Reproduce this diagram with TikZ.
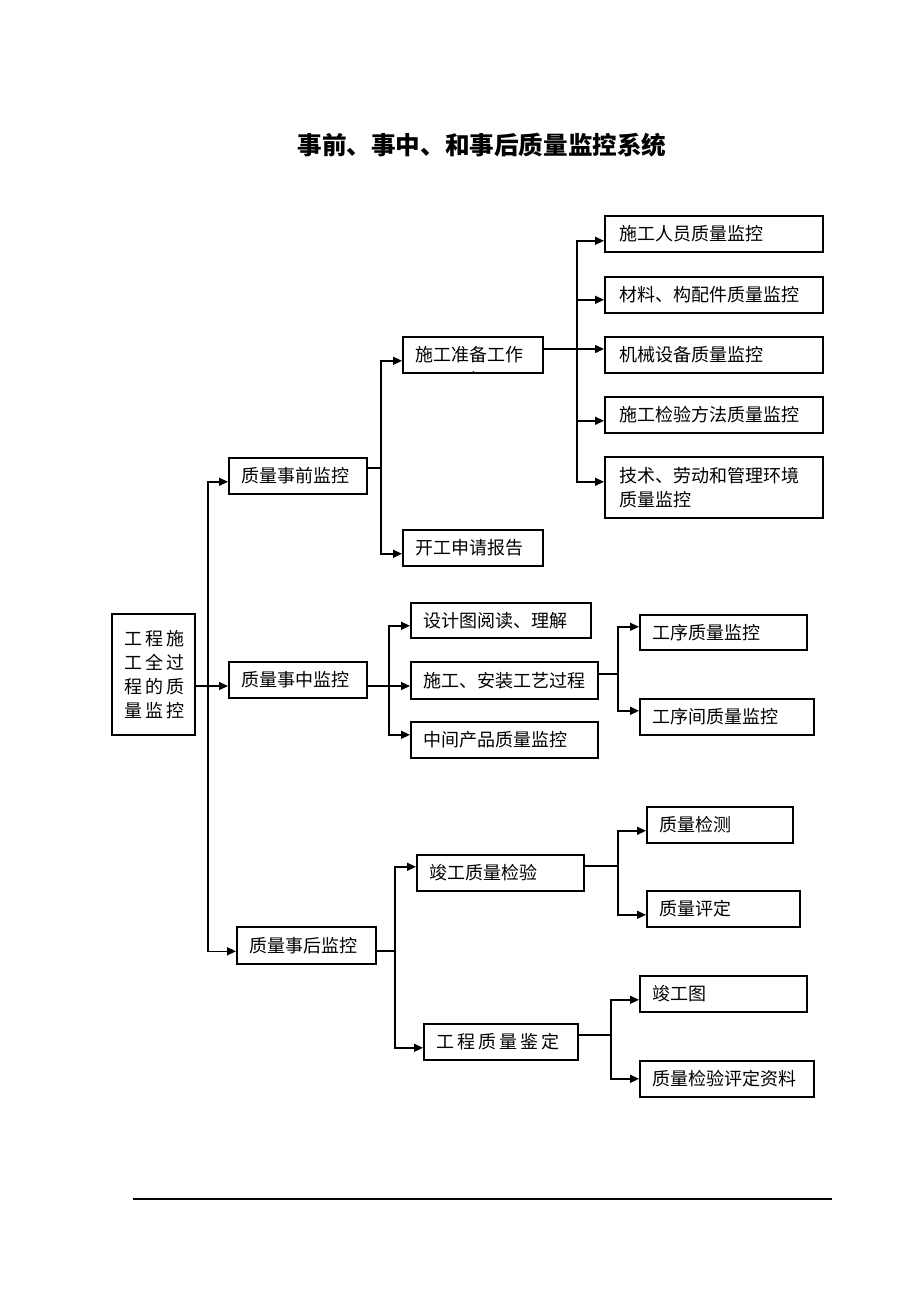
\documentclass[tikz,border=0pt]{standalone}
\usepackage{fontspec}
\setmainfont{Noto Sans CJK SC}
\usetikzlibrary{arrows.meta}

\tikzset{
  box/.style={draw, line width=0.8pt, anchor=north west, inner xsep=6.5pt,
    inner ysep=0pt, align=left, font=\fontsize{9pt}{12pt}\selectfont},
  arr/.style={line width=0.7pt, -{Triangle[length=4.5pt,width=4pt]}},
  ln/.style={line width=0.7pt}
}

\begin{document}
\begin{tikzpicture}[x=0.5pt, y=-0.5pt]
    \useasboundingbox (0,0) rectangle (920,1302);

    \node (title) at (482,145) {\fontsize{12.3pt}{14pt}\selectfont\bfseries 事前、事中、和事后质量监控系统};

    % root
    \node[box, text width=28.5pt, minimum height=60.5pt] (root) at (111,613)
      {工\,程\,施\\工\,全\,过\\程\,的\,质\\量\,监\,控};

    % second level
    \node[box, text width=56pt, minimum height=18pt] (pre) at (228,457) {质量事前监控};
    \node[box, text width=56pt, minimum height=18pt] (mid) at (228,661) {质量事中监控};
    \node[box, text width=56.5pt, minimum height=18.5pt] (post) at (236,926) {质量事后监控};

    % before
    \node[box, text width=57pt, minimum height=18pt] (prep) at (402,336) {施工准备工作};
    \node[font=\tiny] (mark) at (477,373) {、};
    \node[box, text width=57pt, minimum height=18pt] (apply) at (402,529) {开工申请报告};
    \node[box, text width=94pt, minimum height=18pt, inner xsep=7.5pt] (p1) at (604,215) {施工人员质量监控};
    \node[box, text width=94pt, minimum height=18pt, inner xsep=7.5pt] (p2) at (604,276) {材料、构配件质量监控};
    \node[box, text width=94pt, minimum height=18pt, inner xsep=7.5pt] (p3) at (604,336) {机械设备质量监控};
    \node[box, text width=94pt, minimum height=18pt, inner xsep=7.5pt] (p4) at (604,396) {施工检验方法质量监控};
    \node[box, text width=94pt, minimum height=30.5pt, inner xsep=7.5pt] (p5) at (604,456) {技术、劳动和管理环境\\质量监控};

    % during
    \node[box, text width=77pt, minimum height=17.5pt] (m1) at (410,602) {设计图阅读、理解};
    \node[box, text width=80.5pt, minimum height=18.5pt] (m2) at (410,661) {施工、安装工艺过程};
    \node[box, text width=80.5pt, minimum height=18pt] (m3) at (410,721) {中间产品质量监控};
    \node[box, text width=70.5pt, minimum height=17.5pt] (m21) at (639,614) {工序质量监控};
    \node[box, text width=74pt, minimum height=18pt] (m22) at (639,698) {工序间质量监控};

    % after
    \node[box, text width=70.5pt, minimum height=18pt] (f1) at (416,854) {竣工质量检验};
    \node[box, text width=64pt, minimum height=18pt] (f2) at (423,1023) {工\,程\,质\,量\,鉴\,定};
    \node[box, text width=60pt, minimum height=18pt] (f11) at (646,806) {质量检测};
    \node[box, text width=63.5pt, minimum height=18pt] (f12) at (646,890) {质量评定};
    \node[box, text width=70.5pt, minimum height=18pt] (f21) at (639,975) {竣工图};
    \node[box, text width=74pt, minimum height=18pt] (f22) at (639,1060) {质量检验评定资料};

    % junctions
    \coordinate (t0) at (208,686);
    \coordinate (j1) at (381,468);
    \coordinate (j2) at (577,349);
    \coordinate (j3) at (389,686);
    \coordinate (j4) at (618,674);
    \coordinate (j5) at (395,951);
    \coordinate (j6) at (618,866);
    \coordinate (j7) at (611,1035);

    \draw[ln] (root.east |- t0) -- (t0);
    \draw[arr] (t0) |- ([yshift=-3pt]pre.west);
    \draw[arr] (t0) -- (mid.west |- t0);
    \draw[arr] (t0) |- ([yshift=-3pt]post.west);

    \draw[ln] (pre.east |- j1) -- (j1);
    \draw[arr] (j1) |- ([yshift=-3pt]prep.west);
    \draw[arr] (j1) |- ([yshift=-3pt]apply.west);

    \draw[ln] (prep.east |- j2) -- (j2);
    \draw[arr] (j2) |- ([yshift=-3.5pt]p1.west);
    \draw[arr] (j2) |- ([yshift=-2.5pt]p2.west);
    \draw[arr] (j2) -- (p3.west |- j2);
    \draw[arr] (j2) |- ([yshift=-3pt]p4.west);
    \draw[arr] (j2) |- ([yshift=2.75pt]p5.west);

    \draw[ln] (mid.east |- j3) -- (j3);
    \draw[arr] (j3) |- ([yshift=-2.75pt]m1.west);
    \draw[arr] (j3) -- (m2.west |- j3);
    \draw[arr] (j3) |- ([yshift=2.5pt]m3.west);

    \draw[ln] (m2.east |- j4) -- (j4);
    \draw[arr] (j4) |- ([yshift=2.75pt]m21.west);
    \draw[arr] (j4) |- ([yshift=3pt]m22.west);

    \draw[ln] (post.east |- j5) -- (j5);
    \draw[arr] (j5) |- ([yshift=3pt]f1.west);
    \draw[arr] (j5) |- ([yshift=-3pt]f2.west);

    \draw[ln] (f1.east |- j6) -- (j6);
    \draw[arr] (j6) |- ([yshift=-3pt]f11.west);
    \draw[arr] (j6) |- ([yshift=-3pt]f12.west);

    \draw[ln] (f2.east |- j7) -- (j7);
    \draw[arr] (j7) |- ([yshift=-3pt]f21.west);
    \draw[arr] (j7) |- (f22.west);

    \draw[line width=0.7pt] (133,1199) -- (832,1199);
  \end{tikzpicture}
\end{document}
